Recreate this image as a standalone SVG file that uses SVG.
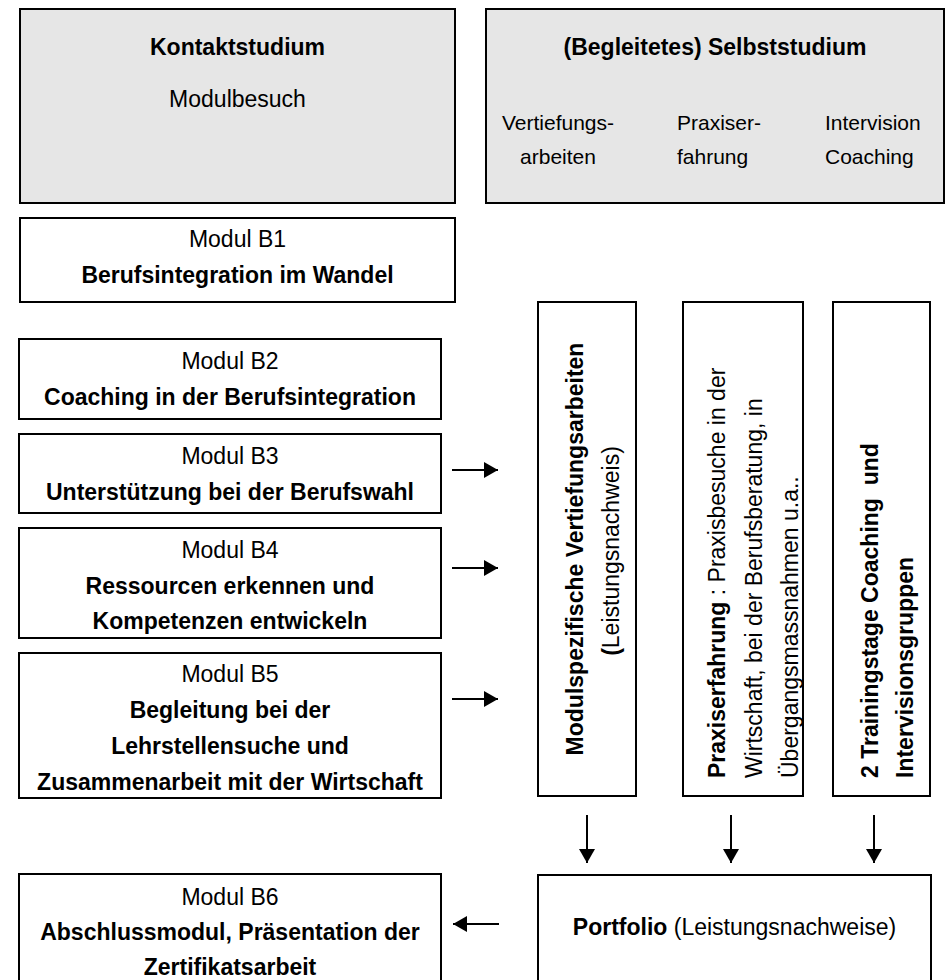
<svg xmlns="http://www.w3.org/2000/svg" width="949" height="980" viewBox="0 0 949 980">
<style>
.box{fill:#ffffff;stroke:#000000;stroke-width:2}
.gray{fill:#e6e6e6;stroke:#000000;stroke-width:2}
text{font-family:"Liberation Sans",Arial,sans-serif;font-size:23px;fill:#000000}
.c{text-anchor:middle}
.b{font-weight:bold}
.s{font-size:21px}
.conn{stroke:#000000;stroke-width:2;fill:none;marker-end:url(#ah)}
</style>
<defs>
<marker id="ah" viewBox="0 0 14 16" refX="14" refY="8" markerWidth="14" markerHeight="16" markerUnits="userSpaceOnUse" orient="auto">
<path d="M0,0 L14,8 L0,16 z" fill="#000000"/>
</marker>
</defs>
<rect width="949" height="980" fill="#ffffff"/>

<g id="kontaktstudium">
<rect class="gray" x="20" y="9" width="435" height="194"/>
<text class="c b" x="237.5" y="55">Kontaktstudium</text>
<text class="c" x="237.5" y="107">Modulbesuch</text>
</g>

<g id="selbststudium">
<rect class="gray" x="486" y="9" width="458" height="194"/>
<text class="c b" x="715" y="55">(Begleitetes) Selbststudium</text>
<text class="c s" x="558" y="130">Vertiefungs-</text>
<text class="c s" x="558" y="164">arbeiten</text>
<text class="s" x="677" y="130">Praxiser-</text>
<text class="s" x="677" y="164">fahrung</text>
<text class="s" x="825" y="130">Intervision</text>
<text class="s" x="825" y="164">Coaching</text>
</g>

<g id="b1">
<rect class="box" x="20" y="218" width="435" height="84"/>
<text class="c" x="237.5" y="247">Modul B1</text>
<text class="c b" x="237.5" y="283">Berufsintegration im Wandel</text>
</g>

<g id="b2">
<rect class="box" x="19" y="339" width="422" height="80"/>
<text class="c" x="230" y="369">Modul B2</text>
<text class="c b" x="230" y="405">Coaching in der Berufsintegration</text>
</g>

<g id="b3">
<rect class="box" x="19" y="434" width="422" height="79"/>
<text class="c" x="230" y="464">Modul B3</text>
<text class="c b" x="230" y="500">Unterstützung bei der Berufswahl</text>
</g>

<g id="b4">
<rect class="box" x="19" y="528" width="422" height="110"/>
<text class="c" x="230" y="558">Modul B4</text>
<text class="c b" x="230" y="594">Ressourcen erkennen und</text>
<text class="c b" x="230" y="629">Kompetenzen entwickeln</text>
</g>

<g id="b5">
<rect class="box" x="19" y="653" width="422" height="145"/>
<text class="c" x="230" y="682">Modul B5</text>
<text class="c b" x="230" y="718">Begleitung bei der</text>
<text class="c b" x="230" y="754">Lehrstellensuche und</text>
<text class="c b" x="230" y="790">Zusammenarbeit mit der Wirtschaft</text>
</g>

<g id="b6">
<rect class="box" x="19" y="874" width="422" height="120"/>
<text class="c" x="230" y="905">Modul B6</text>
<text class="c b" x="230" y="940">Abschlussmodul, Präsentation der</text>
<text class="c b" x="230" y="975">Zertifikatsarbeit</text>
</g>

<g id="vertiefung">
<rect class="box" x="538" y="302" width="98" height="494"/>
<text class="c b" transform="translate(583,549) rotate(-90)">Modulspezifische Vertiefungsarbeiten</text>
<text class="c" transform="translate(619,551) rotate(-90)"><tspan class="b">(</tspan>Leistungsnachweis)</text>
</g>

<g id="praxis">
<rect class="box" x="683" y="302" width="120" height="494"/>
<text transform="translate(725,778) rotate(-90)"><tspan class="b">Praxiserfahrung</tspan> : Praxisbesuche in der</text>
<text transform="translate(762,778) rotate(-90)">Wirtschaft, bei der Berufsberatung, in</text>
<text transform="translate(798,778) rotate(-90)">Übergangsmassnahmen u.a..</text>
</g>

<g id="training">
<rect class="box" x="833" y="302" width="97" height="494"/>
<text class="b" transform="translate(878,778) rotate(-90)" xml:space="preserve">2 Trainingstage Coaching  und</text>
<text class="b" transform="translate(913,778) rotate(-90)">Intervisionsgruppen</text>
</g>

<g id="portfolio">
<rect class="box" x="538" y="875" width="393" height="120"/>
<text class="c" x="734.5" y="935"><tspan class="b">Portfolio</tspan> (Leistungsnachweise)</text>
</g>

<g id="connectors">
<line class="conn" x1="452" y1="470" x2="498" y2="470"/>
<line class="conn" x1="452" y1="568" x2="498" y2="568"/>
<line class="conn" x1="452" y1="699" x2="498" y2="699"/>
<line class="conn" x1="499" y1="924" x2="453" y2="924"/>
<line class="conn" x1="587" y1="815" x2="587" y2="863"/>
<line class="conn" x1="731" y1="815" x2="731" y2="863"/>
<line class="conn" x1="874" y1="815" x2="874" y2="863"/>
</g>
</svg>
